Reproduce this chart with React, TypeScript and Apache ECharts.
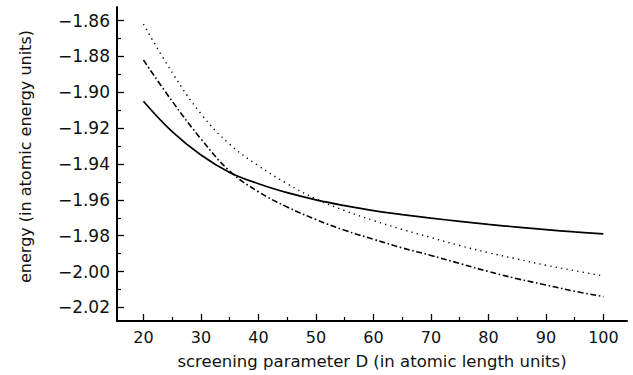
import React, { useEffect, useRef } from "react";
import * as echarts from "echarts";

const D = [20, 25, 30, 35, 40, 45, 50, 55, 60, 65, 70, 75, 80, 85, 90, 95, 100];
const solidE = [-1.905, -1.922, -1.935, -1.9447, -1.951, -1.956, -1.96, -1.9632, -1.966, -1.9682, -1.9702, -1.972, -1.9737, -1.9752, -1.9766, -1.9779, -1.979];
const dottedE = [-1.862, -1.889, -1.912, -1.929, -1.941, -1.951, -1.9595, -1.966, -1.9715, -1.9765, -1.981, -1.9855, -1.9895, -1.993, -1.9965, -1.9995, -2.0025];
const dashDotE = [-1.882, -1.905, -1.926, -1.944, -1.9555, -1.964, -1.971, -1.977, -1.982, -1.9868, -1.991, -1.9955, -2.0, -2.004, -2.0075, -2.011, -2.014];

const xMajor = [20, 30, 40, 50, 60, 70, 80, 90, 100];
const xMinor = [25, 35, 45, 55, 65, 75, 85, 95];
const yMajor = [-2.02, -2.0, -1.98, -1.96, -1.94, -1.92, -1.9, -1.88, -1.86];
const yMinor = [-2.01, -1.99, -1.97, -1.95, -1.93, -1.91, -1.89, -1.87];

const X_MIN = 15.4;
const X_MAX = 104.1;
const Y_MIN = -2.0276;
const Y_MAX = -1.8524;

const FONT = "DejaVu Sans";

export default function App() {
  const ref = useRef<HTMLDivElement>(null);
  useEffect(() => {
    const chart = echarts.init(ref.current!, undefined, { renderer: "svg" });
    const pair = (ys: number[]) => D.map((d, i) => [d, ys[i]]);
    const lineColor = "#000";
    chart.setOption({
      animation: false,
      backgroundColor: "#fff",
      grid: { left: 117, right: 6, top: 7, bottom: 52 },
      xAxis: [
        {
          type: "value",
          min: X_MIN,
          max: X_MAX,
          position: "bottom",
          name: "screening parameter D (in atomic length units)",
          nameLocation: "middle",
          nameGap: 32,
          nameTextStyle: { fontFamily: FONT, fontSize: 16.5, color: "#111" },
          axisLine: { show: true, onZero: false, lineStyle: { color: lineColor, width: 2 } },
          axisTick: { show: true, inside: true, length: 7, customValues: xMajor, lineStyle: { color: lineColor, width: 1.3 } },
          axisLabel: { show: true, customValues: xMajor, margin: 8, fontFamily: FONT, fontSize: 16, color: "#111" },
          splitLine: { show: false },
        },
        {
          type: "value",
          min: X_MIN,
          max: X_MAX,
          position: "bottom",
          axisLine: { show: false },
          axisTick: { show: true, inside: true, length: 4, customValues: xMinor, lineStyle: { color: lineColor, width: 1.2 } },
          axisLabel: { show: false },
          splitLine: { show: false },
        },
      ],
      yAxis: [
        {
          type: "value",
          min: Y_MIN,
          max: Y_MAX,
          position: "left",
          name: "energy (in atomic energy units)",
          nameLocation: "middle",
          nameRotate: 90,
          nameGap: 84,
          nameTextStyle: { fontFamily: FONT, fontSize: 16, color: "#111", padding: [0, 0, 0, 15] },
          axisLine: { show: true, onZero: false, lineStyle: { color: lineColor, width: 2 } },
          axisTick: { show: true, inside: true, length: 7, customValues: yMajor, lineStyle: { color: lineColor, width: 1.3 } },
          axisLabel: {
            show: true,
            customValues: yMajor,
            margin: 7,
            fontFamily: FONT,
            fontSize: 17,
            color: "#111",
            formatter: (v: number) => v.toFixed(2).replace("-", "\u2212"),
          },
          splitLine: { show: false },
        },
        {
          type: "value",
          min: Y_MIN,
          max: Y_MAX,
          position: "left",
          axisLine: { show: false },
          axisTick: { show: true, inside: true, length: 4, customValues: yMinor, lineStyle: { color: lineColor, width: 1.2 } },
          axisLabel: { show: false },
          splitLine: { show: false },
        },
      ],
      series: [
        {
          type: "line",
          name: "solid",
          data: pair(solidE),
          smooth: 0.4,
          symbol: "none",
          lineStyle: { color: "#000", width: 1.7, type: "solid" },
        },
        {
          type: "line",
          name: "dotted",
          data: pair(dottedE),
          smooth: 0.4,
          symbol: "none",
          lineStyle: { color: "#000", width: 1.4, type: [1.3, 4.2] },
        },
        {
          type: "line",
          name: "dashdot",
          data: pair(dashDotE),
          smooth: 0.4,
          symbol: "none",
          lineStyle: { color: "#000", width: 1.6, type: [6, 2.6, 1.6, 2.6] },
        },
      ],
    });
    return () => chart.dispose();
  }, []);
  return (
    <div
      ref={ref}
      style={{ position: "absolute", left: 0, top: 0, width: 633, height: 375 }}
    />
  );
}
